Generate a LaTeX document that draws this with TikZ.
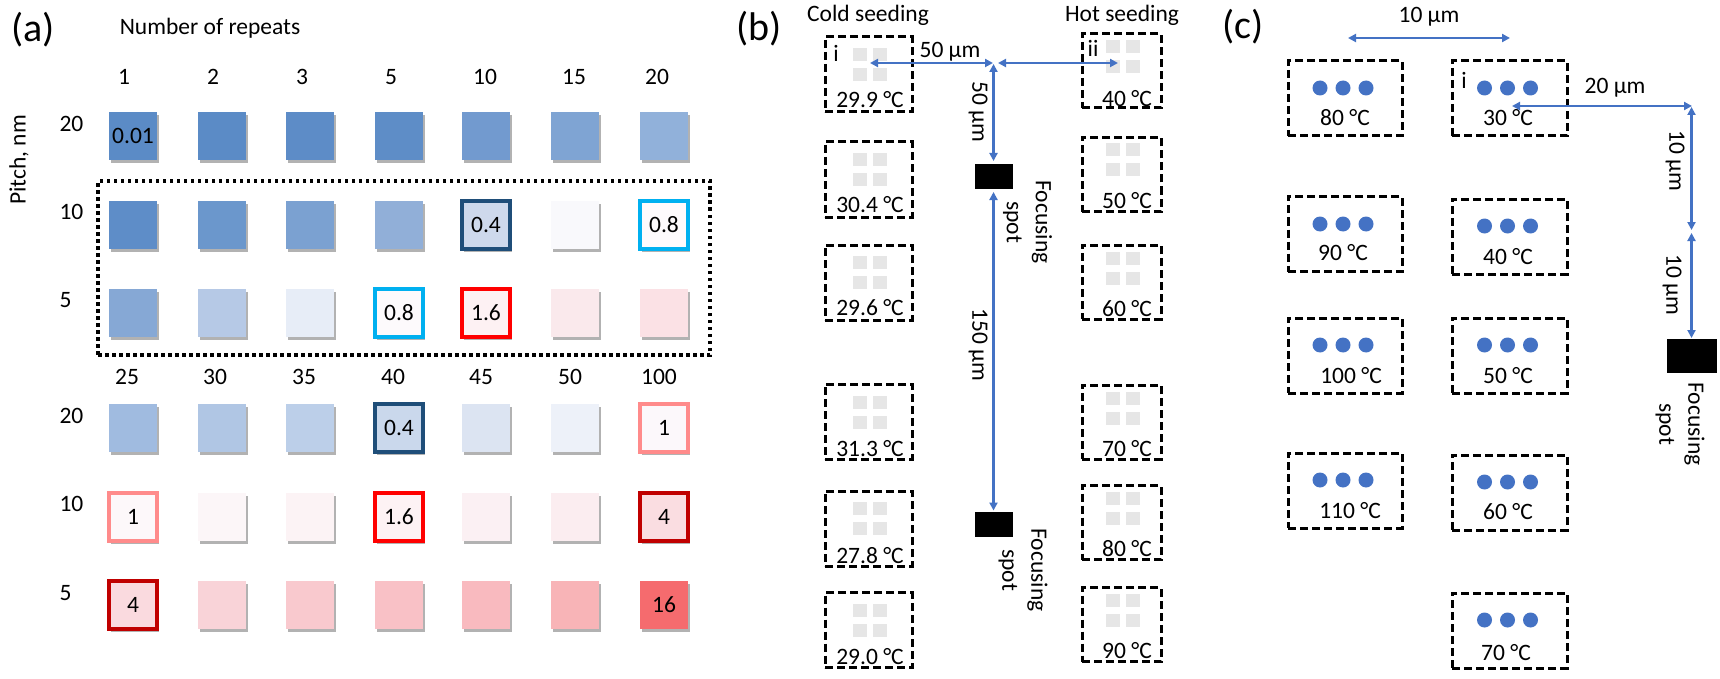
\documentclass[tikz,border=0pt]{standalone}
\usepackage{fontspec}
\setmainfont{Carlito}
\usetikzlibrary{arrows.meta,shadows}
\definecolor{arrowblue}{HTML}{4472C4}
\definecolor{graysq}{HTML}{E6E6E6}
\definecolor{bdark}{HTML}{1F4E79}
\definecolor{bcyan}{HTML}{00B0F0}
\definecolor{bred}{HTML}{FF0000}
\definecolor{bpink}{HTML}{FF8B8B}
\definecolor{bdred}{HTML}{C00000}
\definecolor{A11}{HTML}{5B8BC6}\definecolor{A12}{HTML}{5B8BC6}\definecolor{A13}{HTML}{5D8CC7}\definecolor{A14}{HTML}{5E8DC7}\definecolor{A15}{HTML}{729ACF}\definecolor{A16}{HTML}{7FA4D3}\definecolor{A17}{HTML}{91B1DA}
\definecolor{A21}{HTML}{5E8DC8}\definecolor{A22}{HTML}{6B97CC}\definecolor{A23}{HTML}{7BA1D1}\definecolor{A24}{HTML}{91AFD8}\definecolor{A25}{HTML}{CED9EC}\definecolor{A26}{HTML}{F9F9FC}\definecolor{A27}{HTML}{FDFAFC}
\definecolor{A31}{HTML}{86A8D5}\definecolor{A32}{HTML}{B6C9E6}\definecolor{A33}{HTML}{E7EDF7}\definecolor{A34}{HTML}{FDFAFC}\definecolor{A35}{HTML}{FDF1F3}\definecolor{A36}{HTML}{FAE9EC}\definecolor{A37}{HTML}{FBE1E5}
\definecolor{A41}{HTML}{A0BBE0}\definecolor{A42}{HTML}{B0C6E4}\definecolor{A43}{HTML}{BCCFE9}\definecolor{A44}{HTML}{CAD8EC}\definecolor{A45}{HTML}{DCE4F2}\definecolor{A46}{HTML}{EDF1F9}\definecolor{A47}{HTML}{FCF8FB}
\definecolor{A51}{HTML}{FDF8FA}\definecolor{A52}{HTML}{FCF6F8}\definecolor{A53}{HTML}{FCF3F5}\definecolor{A54}{HTML}{FDF2F4}\definecolor{A55}{HTML}{FBF0F3}\definecolor{A56}{HTML}{FBEDF0}\definecolor{A57}{HTML}{FADDE1}
\definecolor{A61}{HTML}{FADADF}\definecolor{A62}{HTML}{F9D3D8}\definecolor{A63}{HTML}{F9C9CE}\definecolor{A64}{HTML}{F9C1C6}\definecolor{A65}{HTML}{F9BABF}\definecolor{A66}{HTML}{F8B4B7}\definecolor{A67}{HTML}{F56B6E}
\begin{document}
\begin{tikzpicture}[x=1pt,y=-1pt,
  every node/.style={inner sep=0pt, outer sep=0pt},
  txt/.style={font=\fontsize{23.5}{29}\selectfont},
  bigtxt/.style={font=\fontsize{40}{48}\selectfont},
  cell/.style={minimum width=48pt, minimum height=48pt, font=\fontsize{23.5}{29}\selectfont,
    drop shadow={shadow xshift=1.5pt, shadow yshift=-3pt, opacity=0.3, fill=black}},
  bcell/.style={cell, draw=#1, line width=3.5pt},
  dbox/.style={draw=black, line width=3pt, dash pattern=on 8pt off 4pt},
  dotrect/.style={draw=black, line width=3.5pt, dash pattern=on 3.5pt off 3.5pt},
  spotbox/.style={fill=black},
  dimarrow/.style={draw=arrowblue, line width=2.5pt, {Triangle[length=8pt,width=8pt]}-{Triangle[length=8pt,width=8pt]}},
]
\fill[white] (0,0) rectangle (1720,679);
\useasboundingbox (0,0) rectangle (1720,679);

% ---------------- panel (a)
\node[bigtxt] (la) at (33,30) {(a)};
\node[txt] (nrep) at (210,28) {Number of repeats};
\node[txt, rotate=90] (pitch) at (19,160) {Pitch, nm};
\node[dotrect, minimum width=612pt, minimum height=174pt] (drect) at (404,268) {};

\foreach \lab/\x [count=\i] in {1/124,2/213,3/302,5/391,10/485,15/574,20/657}
  \node[txt] (ct\i) at (\x,77) {\lab};
\foreach \lab/\x [count=\i] in {25/127,30/215,35/304,40/393,45/481,50/570,100/659}
  \node[txt] (cb\i) at (\x,377) {\lab};
\foreach \lab/\y [count=\i] in {20/124,10/212,5/300,20/416,10/504,5/593}
  \node[txt, anchor=west] (rl\i) at (59.5,\y) {\lab};

% row 1
\node[cell, fill=A11] (a11) at (133,136) {0.01};
\node[cell, fill=A12] (a12) at (222,136) {};
\node[cell, fill=A13] (a13) at (310,136) {};
\node[cell, fill=A14] (a14) at (399,136) {};
\node[cell, fill=A15] (a15) at (486,136) {};
\node[cell, fill=A16] (a16) at (575,136) {};
\node[cell, fill=A17] (a17) at (664,136) {};
% row 2
\node[cell, fill=A21] (a21) at (133,225) {};
\node[cell, fill=A22] (a22) at (222,225) {};
\node[cell, fill=A23] (a23) at (310,225) {};
\node[cell, fill=A24] (a24) at (399,225) {};
\node[bcell=bdark, fill=A25] (a25) at (486,225) {0.4};
\node[cell, fill=A26] (a26) at (575,225) {};
\node[bcell=bcyan, fill=A27] (a27) at (664,225) {0.8};
% row 3
\node[cell, fill=A31] (a31) at (133,313) {};
\node[cell, fill=A32] (a32) at (222,313) {};
\node[cell, fill=A33] (a33) at (310,313) {};
\node[bcell=bcyan, fill=A34] (a34) at (399,313) {0.8};
\node[bcell=bred, fill=A35] (a35) at (486,313) {1.6};
\node[cell, fill=A36] (a36) at (575,313) {};
\node[cell, fill=A37] (a37) at (664,313) {};
% row 4
\node[cell, fill=A41] (a41) at (133,428) {};
\node[cell, fill=A42] (a42) at (222,428) {};
\node[cell, fill=A43] (a43) at (310,428) {};
\node[bcell=bdark, fill=A44] (a44) at (399,428) {0.4};
\node[cell, fill=A45] (a45) at (486,428) {};
\node[cell, fill=A46] (a46) at (575,428) {};
\node[bcell=bpink, fill=A47] (a47) at (664,428) {1};
% row 5
\node[bcell=bpink, fill=A51] (a51) at (133,517) {1};
\node[cell, fill=A52] (a52) at (222,517) {};
\node[cell, fill=A53] (a53) at (310,517) {};
\node[bcell=bred, fill=A54] (a54) at (399,517) {1.6};
\node[cell, fill=A55] (a55) at (486,517) {};
\node[cell, fill=A56] (a56) at (575,517) {};
\node[bcell=bdred, fill=A57] (a57) at (664,517) {4};
% row 6
\node[bcell=bdred, fill=A61] (a61) at (133,605) {4};
\node[cell, fill=A62] (a62) at (222,605) {};
\node[cell, fill=A63] (a63) at (310,605) {};
\node[cell, fill=A64] (a64) at (399,605) {};
\node[cell, fill=A65] (a65) at (486,605) {};
\node[cell, fill=A66] (a66) at (575,605) {};
\node[cell, fill=A67] (a67) at (664,605) {16};

% ---------------- panel (b)
\node[bigtxt] (lb) at (759,29) {(b)};
\node[txt] (cold) at (868,15) {Cold seeding};
\node[txt] (hot) at (1122,15) {Hot seeding};

\foreach \cy/\gy/\ty/\lab [count=\i] in {74.5/64.5/99.5/29.9,179.5/169.5/204.5/30.4,282.5/272.5/307.5/29.6,421.5/412.5/448.5/31.3,528.5/518.5/555.5/27.8,630/620.5/656.5/29.0}{
  \node[dbox, minimum width=87pt, minimum height=75pt] (bl\i) at (868.5,\cy) {};
  \foreach \dx in {-10,10}{\foreach \dy in {-10,10}{
    \fill[graysq] (870+\dx-7,\gy+\dy-6.5) rectangle ++(14,13);}}
  \node[txt] (blt\i) at (870,\ty) {\lab\ °C};
}
\foreach \cy/\gy/\ty/\lab [count=\i] in {71/57/99/40,174.5/160/200.5/50,282/268/309/60,422/408/449/70,522.5/508/549/80,624.5/610/650.5/90}{
  \node[dbox, minimum width=79pt, minimum height=74pt] (br\i) at (1121.5,\cy) {};
  \foreach \dx in {-10,10}{\foreach \dy in {-10,10}{
    \fill[graysq] (1122.5+\dx-7,\gy+\dy-6.5) rectangle ++(14,13);}}
  \node[txt] (brt\i) at (1127,\ty) {\lab\ °C};
}
\node[txt] (bi) at (836,53) {i};
\node[txt] (bii) at (1093,48) {ii};

\node[spotbox, minimum width=38pt, minimum height=25pt] (s1) at (993.5,176.5) {};
\node[spotbox, minimum width=38pt, minimum height=25pt] (s2) at (993.5,524) {};
\coordinate (bI) at (870,63);
\coordinate (bJl) at (993,63);
\coordinate (bJr) at (998,63);
\coordinate (bII) at (1118,63);
\coordinate (bJv) at (993.5,64);
\draw[dimarrow] (bI) -- (bJl);
\draw[dimarrow] (bJr) -- (bII);
\draw[dimarrow, shorten >=3pt] (bJv) -- (s1);
\draw[dimarrow, shorten <=3pt, shorten >=1pt] (s1) -- (s2);
\node[txt] (b50h) at (950,52) {50 µm};
\node[txt, rotate=-90] (b50v) at (978,112) {50 µm};
\node[txt, rotate=-90] (b150) at (978,345) {150 µm};
\node[txt, rotate=-90, align=center] (bfs1) at (1027.5,222) {Focusing\\spot};
\node[txt, rotate=-90, align=center] (bfs2) at (1023,570) {Focusing\\spot};

% ---------------- panel (c)
\node[bigtxt] (lc) at (1243,27) {(c)};
\foreach \cy/\dy/\tx/\ty/\lab [count=\i] in {98.5/88/1345/118/80,234/224/1343/253/90,355.5/345/1351/376/100,490.5/480/1350/511/110}{
  \node[dbox, minimum width=114pt, minimum height=75pt] (cl\i) at (1345,\cy) {};
  \foreach \dx in {-23,0,23}{\fill[arrowblue] (1343+\dx,\dy) circle[radius=7.5pt];}
  \node[txt] (clt\i) at (\tx,\ty) {\lab\ °C};
}
\foreach \cy/\dy/\tx/\ty/\lab [count=\i] in {98.5/88/1508/118/30,236.5/226/1508/257/40,355.5/345/1508/376/50,492.5/482/1508/512/60,630.5/620/1506/653/70}{
  \node[dbox, minimum width=115pt, minimum height=75pt] (cr\i) at (1509.5,\cy) {};
  \foreach \dx in {-23,0,23}{\fill[arrowblue] (1507.5+\dx,\dy) circle[radius=7.5pt];}
  \node[txt] (crt\i) at (\tx,\ty) {\lab\ °C};
}
\node[txt] (ci) at (1464,80) {i};

\node[spotbox, minimum width=50pt, minimum height=34pt] (cs) at (1691.5,356) {};
\coordinate (c1a) at (1348,38);
\coordinate (c1b) at (1510,38);
\coordinate (c2a) at (1512,106);
\coordinate (c2b) at (1692,106);
\coordinate (c3a) at (1691.5,107);
\coordinate (c3b) at (1691.5,230);
\coordinate (c4a) at (1691.5,233);
\draw[dimarrow] (c1a) -- (c1b);
\draw[dimarrow] (c2a) -- (c2b);
\draw[dimarrow] (c3a) -- (c3b);
\draw[dimarrow, shorten >=1pt] (c4a) -- (cs);
\node[txt] (c10h) at (1429,17) {10 µm};
\node[txt] (c20h) at (1615,88) {20 µm};
\node[txt, rotate=-90] (c10v1) at (1675,161) {10 µm};
\node[txt, rotate=-90] (c10v2) at (1672,285) {10 µm};
\node[txt, rotate=-90, align=center] (cfs) at (1680,424) {Focusing\\spot};
\end{tikzpicture}
\end{document}
